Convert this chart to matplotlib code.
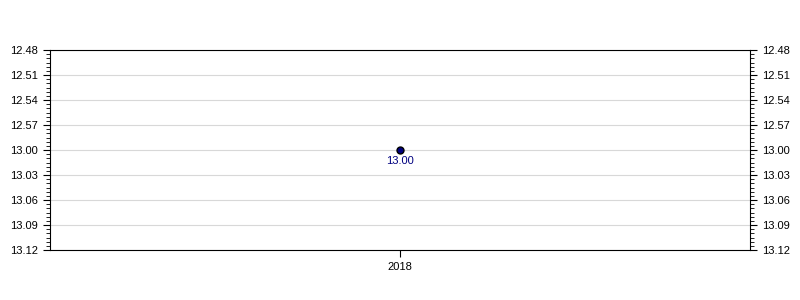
import matplotlib
matplotlib.use('Agg')
from matplotlib import pyplot as plt
from matplotlib.ticker import MultipleLocator, FuncFormatter

# data (times in m.ss, stored as seconds)
years = ['2018']
times = [13 * 60 + 0]
time_labels = ['13.00']

plt.rcParams['font.family'] = ['Liberation Sans', 'DejaVu Sans']
plt.rcParams['font.size'] = 8

def fmt_time(v, pos):
    v = int(round(v))
    return '%d.%02d' % (v // 60, v % 60)

fig = plt.figure(figsize=(8, 3), dpi=100)
ax = fig.add_axes([50 / 800, 50 / 300, 700 / 800, 200 / 300])

x = list(range(len(years)))
ax.plot(x, times, 'o', color='#000080', markeredgecolor='black', markersize=5, zorder=3)
for xi, t, lab in zip(x, times, time_labels):
    ax.annotate(lab, (xi, t), xytext=(0, -4), textcoords='offset points',
                ha='center', va='top', color='#000080', fontsize=8)

ax.set_xlim(-1, 1)
ax.set_xticks(x)
ax.set_xticklabels(years)

#Inverted time axis
ax.set_ylim(792, 768)
ax.yaxis.set_major_locator(MultipleLocator(3))
ax.yaxis.set_minor_locator(MultipleLocator(0.5))
ax.yaxis.set_major_formatter(FuncFormatter(fmt_time))
ax.tick_params(axis='y', which='both', left=True, right=True, labelleft=True, labelright=True)
ax.tick_params(axis='y', which='major', length=5)
ax.tick_params(axis='y', which='minor', length=3)
ax.tick_params(axis='x', length=5)
ax.grid(axis='y', color='#d8d8d8', linewidth=0.8)
ax.set_axisbelow(True)

plt.savefig('out.png', dpi=100)
